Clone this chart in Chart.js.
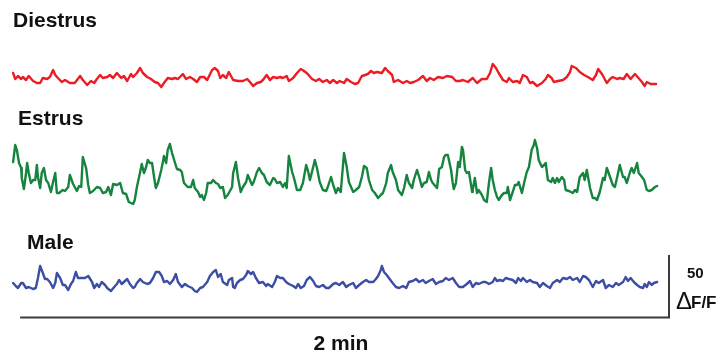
<!DOCTYPE html>
<html>
<head>
<meta charset="utf-8">
<title>Calcium traces</title>
<script src="https://cdn.jsdelivr.net/npm/chart.js@4.4.1/dist/chart.umd.min.js"></script>
<style>
  html, body { margin: 0; padding: 0; background: #ffffff; }
  canvas { display: block; }
</style>
</head>
<body>
<canvas id="traces" width="720" height="360"></canvas>
<script>
// Fluorescence traces (ΔF/F, %) recorded over ~2 minutes, one per condition.
// Time in seconds, ΔF/F relative to each trace's own baseline.

const diestrusTime = [0.2,0.6,1.1,1.7,2.0,2.6,3.1,3.9,4.6,5.2,5.7,6.5,7.0,7.6,8.0,8.5,9.2,9.8,10.7,11.6,12.6,13.1,13.9,14.6,15.2,15.7,16.3,16.8,17.6,18.1,18.7,19.4,20.2,20.7,21.3,22.0,22.4,23.1,23.7,24.2,25.0,25.7,26.4,27.0,27.6,28.1,28.8,29.6,30.1,30.7,31.6,32.2,32.9,33.5,34.2,34.8,35.5,36.1,37.0,37.5,38.1,38.5,39.0,39.6,40.1,40.9,41.8,42.7,43.5,44.0,44.6,45.3,46.0,46.4,47.1,47.7,48.3,49.0,49.6,50.1,50.8,51.2,52.0,52.7,53.4,54.0,54.5,55.5,56.2,56.8,57.5,58.2,58.8,59.4,60.1,60.6,61.4,61.9,62.7,63.4,64.0,64.7,65.3,65.8,66.4,66.9,67.5,68.4,69.0,69.5,70.3,70.6,71.4,72.3,73.0,73.6,74.3,75.1,76.0,76.7,77.3,78.0,78.8,79.7,80.4,81.4,82.1,82.8,83.4,84.3,85.2,86.0,86.9,87.8,88.4,88.9,89.5,90.0,90.8,91.5,91.9,92.6,93.4,93.9,94.5,95.2,95.8,96.3,97.1,98.0,98.7,99.1,99.8,100.2,101.0,101.9,102.6,103.2,103.5,104.3,105.0,105.8,106.5,107.4,108.0,108.4,109.1,110.0,110.6,111.1,111.9,112.4,113.1,113.7,114.4,115.2,115.7,116.5,117.0,117.4,118.1,119.1];
const diestrusDff = [10.4,5.6,8.0,5.6,7.2,4.8,8.0,4.0,2.4,2.4,6.4,5.6,7.2,12.8,8.8,6.4,3.2,4.8,2.4,2.4,8.0,4.8,0.8,4.0,2.4,5.6,8.8,6.4,7.2,8.8,6.4,10.4,6.4,8.0,4.0,9.6,7.2,10.4,14.4,10.4,7.2,5.6,3.2,2.4,-0.8,2.4,6.4,5.6,6.4,5.6,9.6,5.6,7.2,5.6,3.2,7.2,7.2,4.8,12.8,14.4,12.0,6.4,8.8,6.4,11.2,4.8,4.0,4.0,5.6,3.2,0.0,2.4,3.2,4.8,8.8,4.8,7.2,6.4,7.2,6.4,8.0,4.0,6.4,10.4,13.6,12.0,10.4,5.6,4.0,5.6,3.2,4.8,2.4,4.8,2.4,4.0,2.4,5.6,3.2,1.6,2.4,8.0,8.8,9.6,12.0,10.4,11.2,10.4,14.4,12.0,8.8,3.2,4.8,2.4,4.0,2.4,3.2,4.8,8.0,4.0,6.4,4.8,7.2,6.4,8.0,7.2,4.0,4.0,4.8,3.2,6.4,2.4,5.6,5.6,10.4,17.6,14.4,10.4,4.8,3.2,6.4,3.2,4.0,2.4,8.8,7.2,2.4,3.2,0.0,2.4,5.6,8.8,6.4,3.2,4.0,4.8,7.2,11.2,16.0,14.4,11.2,8.8,7.2,4.8,8.8,13.6,9.6,2.4,5.6,7.2,5.6,6.4,5.6,9.6,5.6,9.6,7.2,3.2,0.0,3.2,1.6,1.6];

const estrusTime = [0.2,0.6,0.9,1.3,1.7,1.8,2.2,2.6,2.8,3.1,3.5,3.9,4.3,4.6,4.8,5.2,5.5,5.9,6.3,6.7,7.2,7.6,8.0,8.3,8.7,9.4,9.8,10.4,10.7,11.3,11.6,12.0,12.4,12.8,13.1,13.7,14.1,14.4,15.0,15.7,16.3,16.8,17.4,17.8,18.3,18.7,19.4,20.0,20.5,21.1,21.6,22.4,22.7,23.1,23.7,24.0,24.4,24.8,25.1,25.5,25.9,26.3,26.6,27.0,27.6,27.9,28.1,28.5,28.8,29.2,29.6,30.1,30.5,31.1,31.4,31.8,32.5,33.1,33.5,33.8,34.4,34.8,35.1,35.5,35.9,36.2,36.8,37.2,37.7,38.1,38.5,39.0,39.4,39.9,40.7,40.9,41.4,41.8,42.3,42.7,43.3,43.6,44.4,44.7,45.3,45.7,46.2,46.6,47.1,47.7,48.3,48.6,49.0,49.6,50.1,50.5,50.8,51.2,51.8,52.1,52.7,53.3,53.8,54.4,54.7,55.1,55.7,56.0,56.4,56.9,57.5,58.1,58.4,59.0,59.4,59.9,60.3,60.8,61.4,61.9,62.3,63.1,63.6,64.2,64.7,65.1,65.6,66.0,66.6,67.1,67.7,68.2,68.6,69.2,69.5,70.1,70.4,71.0,71.4,72.1,72.5,73.0,73.4,74.0,74.3,74.9,75.3,75.8,76.2,76.7,77.1,77.5,77.8,78.6,79.0,79.5,79.9,80.2,80.6,81.2,81.5,81.7,82.1,82.5,82.8,83.2,83.4,83.8,84.1,84.5,85.1,85.2,85.6,86.0,86.3,86.9,87.3,87.8,88.2,88.6,88.9,89.3,89.7,90.0,90.6,91.0,91.5,91.7,92.1,92.6,93.0,93.4,93.7,94.3,94.7,95.2,95.6,96.1,96.5,96.7,97.1,97.4,98.0,98.4,98.7,99.1,99.7,100.0,100.4,100.8,101.1,101.7,102.1,102.4,103.0,103.7,104.1,104.5,105.0,105.6,105.9,106.3,106.9,107.4,107.8,108.2,108.7,109.3,109.6,110.0,110.6,111.1,111.5,112.0,112.4,113.0,113.3,113.7,114.3,114.6,115.0,115.6,115.9,116.5,116.9,117.4,117.8,118.3,118.9,119.3];
const estrusDff = [34.4,48.0,44.0,33.6,29.6,21.6,12.8,25.6,33.6,25.6,17.6,20.0,20.0,32.0,22.4,13.6,25.6,29.6,20.0,17.6,10.4,18.4,25.6,9.6,9.6,12.0,11.2,14.4,24.0,16.8,14.4,11.2,15.2,14.4,38.4,29.6,16.0,9.6,11.2,14.4,13.6,9.6,10.4,14.4,8.0,16.8,16.0,17.6,9.6,8.8,2.4,0.8,4.0,14.4,26.4,32.8,25.6,30.4,36.0,33.6,33.6,21.6,13.6,17.6,28.0,34.4,39.2,33.6,44.0,48.8,41.6,34.4,28.8,28.0,26.4,17.6,14.4,14.4,20.0,13.6,10.4,6.4,8.0,4.0,9.6,17.6,17.6,20.0,17.6,16.8,13.6,14.4,5.6,8.0,14.4,25.6,34.4,21.6,10.4,14.4,18.4,24.0,16.0,18.4,26.4,29.6,25.6,24.0,18.4,16.0,21.6,20.8,17.6,18.4,14.4,17.6,13.6,39.2,26.4,22.4,12.0,12.0,17.6,32.0,28.0,20.0,30.4,36.0,29.6,18.4,12.0,11.2,14.4,22.4,16.0,9.6,13.6,10.4,41.6,30.4,18.4,10.4,12.0,14.4,22.4,31.2,29.6,20.0,12.0,9.6,5.6,8.0,9.6,17.6,25.6,32.0,26.4,20.0,12.0,8.0,13.6,24.0,17.6,13.6,20.0,28.0,22.4,14.4,17.6,18.4,26.4,20.0,17.6,13.6,28.8,30.4,38.4,40.0,40.0,28.0,17.6,12.8,17.6,34.4,30.4,46.4,44.0,28.0,25.6,26.4,10.4,12.0,21.6,9.6,12.0,8.0,4.0,2.4,17.6,29.6,20.0,12.0,6.4,4.0,8.0,9.6,9.6,14.4,4.0,10.4,16.0,16.0,18.4,9.6,17.6,26.4,30.4,44.0,48.0,52.0,45.6,36.0,30.4,32.0,33.6,20.0,18.4,21.6,17.6,21.6,18.4,22.4,20.0,12.0,11.2,9.6,12.0,10.4,22.4,25.6,20.0,28.0,13.6,5.6,5.6,4.0,10.4,21.6,20.0,29.6,22.4,16.0,14.4,24.0,32.0,22.4,22.4,17.6,26.4,29.6,25.6,33.6,25.6,22.4,20.0,12.0,11.2,12.0,14.4,15.2];

const maleTime = [0.2,0.7,1.1,1.7,2.0,2.6,3.1,3.9,4.4,4.8,5.2,5.7,6.1,6.5,7.0,7.6,8.0,8.3,8.9,9.4,9.8,10.4,10.9,11.3,11.8,12.2,12.9,13.5,14.1,14.8,15.2,15.7,16.1,16.6,17.2,17.6,18.3,18.9,19.4,19.8,20.3,20.7,21.3,21.8,22.4,22.7,23.1,23.7,24.2,25.0,25.5,26.1,26.6,27.2,27.7,28.1,28.7,29.2,29.8,30.3,30.7,31.4,32.0,32.5,33.3,33.8,34.2,34.8,35.3,36.1,36.6,37.2,37.7,38.1,38.6,39.0,39.8,40.1,40.7,40.9,41.2,41.6,42.2,42.7,43.3,43.6,44.2,44.6,45.1,45.7,46.4,47.0,47.3,48.1,48.6,49.0,49.6,50.1,50.7,51.2,52.0,52.5,52.9,53.4,54.0,54.5,55.1,55.7,56.2,56.8,57.5,58.1,58.6,59.4,59.9,60.5,61.2,61.8,62.3,63.1,63.6,64.2,64.9,65.5,66.0,66.8,67.3,67.7,68.2,68.4,68.8,69.3,69.7,70.4,71.0,71.6,72.3,72.9,73.4,74.1,74.7,75.3,76.0,76.5,77.1,77.8,78.4,79.0,79.7,80.2,80.8,81.5,82.1,82.7,83.4,84.1,84.7,85.2,85.8,86.3,87.1,87.6,88.2,88.9,89.3,89.7,90.2,90.8,91.3,91.9,92.6,93.2,93.6,94.1,94.5,95.2,95.8,96.3,97.1,97.6,98.2,98.9,99.5,100.0,100.8,101.3,101.9,102.6,103.2,103.7,104.5,105.0,105.6,106.1,106.7,107.4,108.0,108.5,109.3,109.8,110.4,111.1,111.7,112.2,113.0,113.5,113.9,114.4,115.0,115.6,116.1,116.7,117.0,117.4,117.8,118.3,118.7,119.3];
const maleDff = [8.0,5.6,4.0,8.0,8.0,4.0,4.8,3.2,4.0,12.0,21.6,16.0,11.2,11.2,8.8,4.0,8.0,16.0,12.0,6.4,6.4,2.4,7.2,9.6,16.8,12.0,12.0,12.0,13.6,8.8,4.0,7.2,4.8,8.8,6.4,4.0,1.6,4.8,7.2,10.4,7.2,8.8,11.2,7.2,4.0,4.8,8.0,11.2,8.8,7.2,8.0,12.0,16.8,16.8,13.6,8.8,9.6,7.2,10.4,15.2,8.8,4.8,7.2,5.6,4.0,1.6,0.8,4.0,4.8,8.8,13.6,16.8,18.4,12.8,15.2,8.8,6.4,10.4,12.0,4.8,4.0,8.0,10.4,11.2,14.4,17.6,15.2,16.8,12.0,8.0,8.8,5.6,7.2,4.8,8.8,13.6,12.0,12.0,8.8,7.2,5.6,4.0,7.2,4.0,5.6,10.4,12.8,9.6,5.6,4.8,6.4,4.0,4.0,7.2,8.0,6.4,8.8,4.8,6.4,8.0,4.0,6.4,8.8,10.4,8.8,8.8,11.2,13.6,18.4,21.6,16.8,14.4,12.0,8.0,4.8,4.0,5.6,4.0,8.8,9.6,11.2,8.8,10.4,8.0,9.6,11.2,7.2,8.8,9.6,12.0,10.4,12.0,8.0,4.8,4.8,7.2,9.6,4.8,8.0,7.2,8.8,8.8,7.2,8.8,12.0,9.6,10.4,9.6,12.0,11.2,10.4,8.0,12.0,9.6,12.0,8.8,10.4,8.8,8.0,4.8,8.0,5.6,4.0,8.0,10.4,8.8,12.0,11.2,12.8,10.4,12.0,8.8,13.6,12.8,10.4,4.8,9.6,8.0,10.4,4.0,6.4,4.8,8.0,6.4,8.8,12.8,9.6,12.0,8.8,6.4,4.8,4.0,7.2,4.8,8.8,6.4,8.0,8.8];

const traceNames  = ['Diestrus', 'Estrus', 'Male'];
const traceColors = ['#ec1c24', '#16843f', '#3b4ea4'];

// Baseline of each trace on the shared ΔF/F axis (stacks them top to bottom)
const traceOffsets = [219.2, 124, 53.6];

// Scale bars
const scaleBarSeconds = 120;
const scaleBarDff = 50;
const scaleBarEnd = 121.5;   // right end of the time bar, s
const scaleBarBase = 34;     // level of the time bar, ΔF/F

const FONT = '"Liberation Sans", Arial, Helvetica, sans-serif';

function toPoints(times, values, offset) {
  return times.map((t, i) => ({ x: t, y: values[i] + offset }));
}

const series = [
  [diestrusTime, diestrusDff],
  [estrusTime, estrusDff],
  [maleTime, maleDff]
];

const datasets = series.map(([t, v], i) => ({
  label: traceNames[i],
  data: toPoints(t, v, traceOffsets[i]),
  borderColor: traceColors[i],
  borderWidth: 2.4,
  pointRadius: 0,
  tension: 0,
  fill: false,
  borderJoinStyle: 'round',
  borderCapStyle: 'round'
}));

// Trace names and the time / ΔF/F scale bars
const decorations = {
  id: 'decorations',
  afterDatasetsDraw(chart) {
    const { ctx, scales: { x, y } } = chart;
    ctx.save();

    ctx.fillStyle = '#111111';
    ctx.textBaseline = 'alphabetic';
    ctx.textAlign = 'left';
    ctx.font = 'bold 21px ' + FONT;
    ctx.fillText(traceNames[0], 13, 27);
    ctx.fillText(traceNames[1], 18, 125);
    ctx.fillText(traceNames[2], 27, 249);

    const xL = x.getPixelForValue(scaleBarEnd - scaleBarSeconds);
    const xR = x.getPixelForValue(scaleBarEnd);
    const yB = y.getPixelForValue(scaleBarBase);
    const yT = y.getPixelForValue(scaleBarBase + scaleBarDff);

    ctx.strokeStyle = '#3a3a3a';
    ctx.lineWidth = 2;
    ctx.lineCap = 'butt';
    ctx.beginPath();
    ctx.moveTo(xL, yB);
    ctx.lineTo(xR + 1, yB);
    ctx.moveTo(xR, yB);
    ctx.lineTo(xR, yT);
    ctx.stroke();

    ctx.textAlign = 'center';
    ctx.font = 'bold 21px ' + FONT;
    ctx.fillText('2 min', 341, 350);

    ctx.textAlign = 'left';
    ctx.font = 'bold 15px ' + FONT;
    ctx.fillText(String(scaleBarDff), 687, 278);
    ctx.font = '24px ' + FONT;
    ctx.fillText('\u0394', 676, 309);
    ctx.font = 'bold 17px ' + FONT;
    ctx.fillText('F/F', 691, 308);

    ctx.restore();
  }
};

new Chart(document.getElementById('traces'), {
  type: 'line',
  data: { datasets },
  options: {
    responsive: false,
    animation: false,
    parsing: false,
    normalized: true,
    layout: { padding: { left: 12, right: 51, top: 0, bottom: 0 } },
    plugins: {
      legend: { display: false },
      tooltip: { enabled: false },
      title: { display: false }
    },
    scales: {
      x: { type: 'linear', min: 0, max: scaleBarEnd, display: false },
      y: { type: 'linear', min: 0, max: 288, display: false }
    }
  },
  plugins: [decorations]
});
</script>
</body>
</html>
